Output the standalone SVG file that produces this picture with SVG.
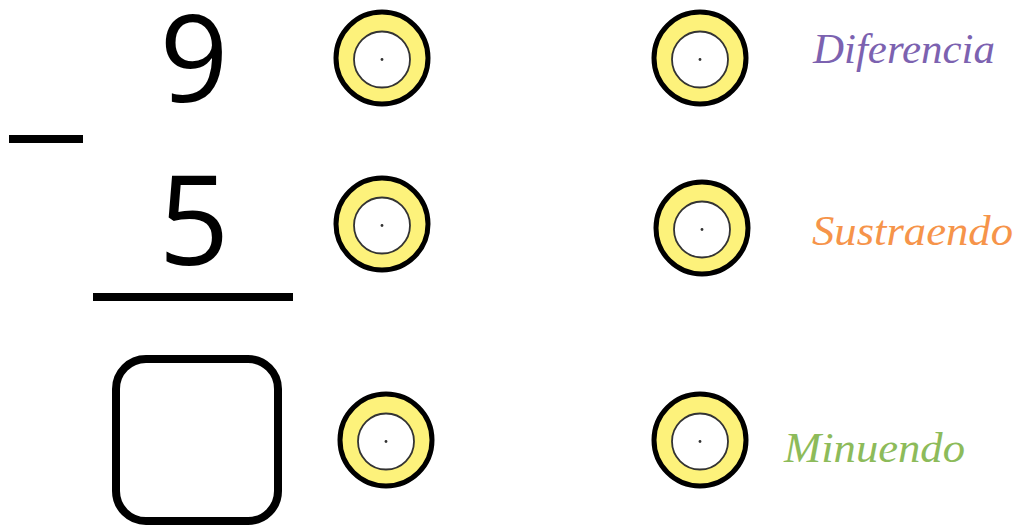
<svg xmlns="http://www.w3.org/2000/svg" width="1021" height="527" viewBox="0 0 1021 527">
<defs>
<style>
.ring{fill:#fdf27b;stroke:#000;stroke-width:5}
.hole{fill:#fff;stroke:#333;stroke-width:1.8}
.dot{fill:#333}
.num{font-family:"Open Sans","Liberation Sans",sans-serif;font-weight:500;fill:#000;text-anchor:middle}
.lbl{font-family:"Liberation Serif","DejaVu Serif",serif;font-style:italic;font-size:42px}
.bar{fill:#000}
</style>
<g id="target">
<circle class="ring" cx="0" cy="0" r="46"/>
<circle class="hole" cx="0" cy="1.5" r="28"/>
<circle class="dot" cx="0" cy="1.5" r="1.4"/>
</g>
</defs>
<rect width="1021" height="527" fill="#fff"/>
<g id="operation">
<text class="num" x="194" y="102" font-size="120">9</text>
<rect class="bar" x="9" y="135" width="74" height="8"/>
<text class="num" x="194" y="265" font-size="124">5</text>
<rect class="bar" x="93" y="293" width="200" height="8"/>
<rect x="116" y="359" width="162" height="162" rx="30" fill="#fff" stroke="#000" stroke-width="8"/>
</g>
<g id="left-targets">
<use href="#target" x="382" y="58"/>
<use href="#target" x="382" y="224"/>
<use href="#target" x="386" y="440"/>
</g>
<g id="right-targets">
<use href="#target" x="700" y="58"/>
<use href="#target" x="702" y="228"/>
<use href="#target" x="700" y="440"/>
</g>
<g id="labels">
<text class="lbl" x="813" y="63" fill="#7c62b0" textLength="182" lengthAdjust="spacingAndGlyphs">Diferencia</text>
<text class="lbl" x="812" y="245" fill="#f6944a" textLength="201" lengthAdjust="spacingAndGlyphs">Sustraendo</text>
<text class="lbl" x="784" y="462" fill="#8dbb5a" textLength="181" lengthAdjust="spacingAndGlyphs">Minuendo</text>
</g>
</svg>
